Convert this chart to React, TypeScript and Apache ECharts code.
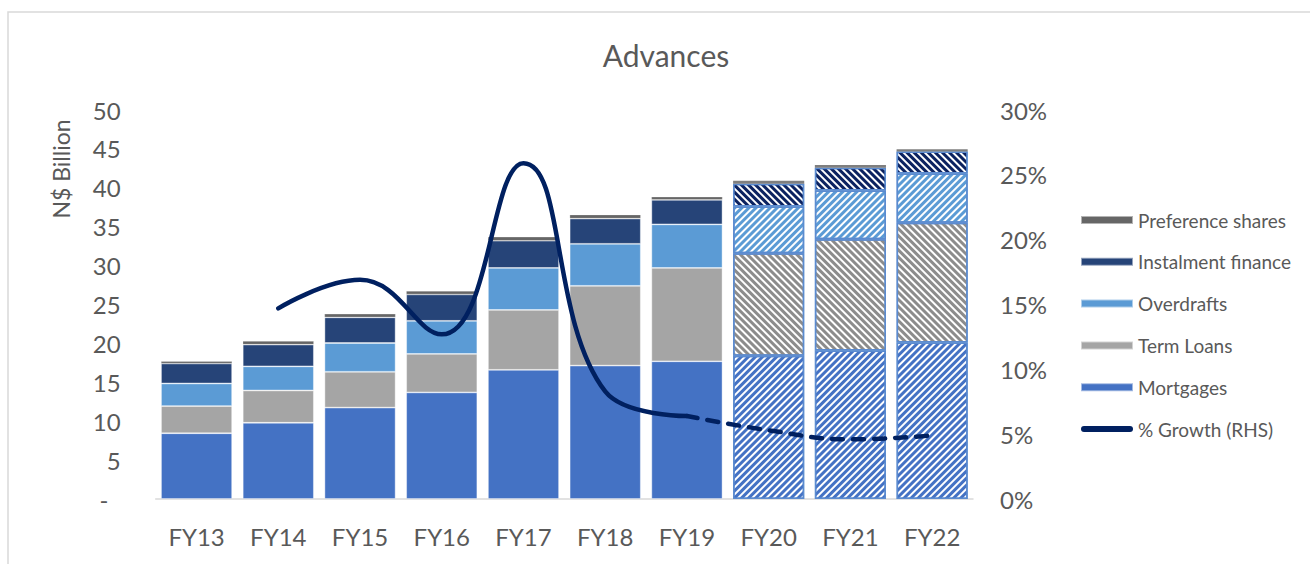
import React, { useEffect, useRef } from "react";
import * as echarts from "echarts";

const categories = ["FY13", "FY14", "FY15", "FY16", "FY17", "FY18", "FY19", "FY20", "FY21", "FY22"];
const mortgages = [8.45, 9.8, 11.75, 13.7, 16.6, 17.15, 17.7, 18.4, 19.1, 20.1];
const termLoans = [3.5, 4.15, 4.6, 4.95, 7.7, 10.25, 12.0, 13.2, 14.3, 15.4];
const overdrafts = [2.9, 3.1, 3.7, 4.25, 5.4, 5.4, 5.6, 6.0, 6.25, 6.35];
const instalment = [2.57, 2.8, 3.3, 3.4, 3.5, 3.25, 3.15, 2.92, 2.93, 2.8];
const preference = [0.3, 0.45, 0.45, 0.45, 0.5, 0.5, 0.4, 0.38, 0.35, 0.32];
const growthActual = [null, 14.7, 16.9, 12.7, 25.9, 8.3, 6.4, null, null, null];
const growthForecast = [null, null, null, null, null, null, 6.4, 5.3, 4.6, 4.9];
const forecastFrom = 7; // FY20 onwards hatched
const leftTicks = { min: 0, max: 50, interval: 5 };
const rightTicks = { min: 0, max: 30, interval: 5 };

const FONT = "Lato, 'Noto Sans', sans-serif";
const TEXT = "#595959";

function hatched(values: number[], solid: string, stripe: string, rot: number, border = true) {
  return values.map((v, i) =>
    i < forecastFrom
      ? v
      : {
          value: v,
          itemStyle: border
            ? {
                color: "#ffffff",
                borderColor: "#5B8BD0",
                borderWidth: 1.5,
                decal: {
                  symbol: "rect",
                  color: stripe,
                  dashArrayX: [1, 0],
                  dashArrayY: [2.5, 2],
                  rotation: rot,
                },
              }
            : { color: solid, borderWidth: 0 },
        }
  );
}

export default function App() {
  const ref = useRef<HTMLDivElement>(null);
  useEffect(() => {
    if (!ref.current) return;
    const chart = echarts.init(ref.current, undefined, { renderer: "svg" });
    const barBase = {
      type: "bar",
      stack: "adv",
      barCategoryGap: "13%",
      yAxisIndex: 0,
    };
    chart.setOption({
      animation: false,
      textStyle: { fontFamily: FONT },
      grid: { left: 155.7, right: 337, top: 110, bottom: 65 },
      legend: {
        orient: "vertical",
        left: 1080,
        top: 210,
        itemWidth: 52,
        itemHeight: 8,
        itemGap: 21.8,
        padding: 0,
        textStyle: { fontSize: 19, lineHeight: 20, color: TEXT, fontFamily: FONT },
        data: [
          { name: "Preference shares", icon: "rect" },
          { name: "Instalment finance", icon: "rect" },
          { name: "Overdrafts", icon: "rect" },
          { name: "Term Loans", icon: "rect" },
          { name: "Mortgages", icon: "rect" },
          {
            name: "% Growth (RHS)",
            icon: "path://M3,0 H49 A3,3 0 0 1 49,6 H3 A3,3 0 0 1 3,0 Z",
            itemStyle: { color: "#002060" },
          },
        ],
      },
      xAxis: {
        type: "category",
        data: categories,
        axisLine: { lineStyle: { color: "#D9D9D9", width: 1.5 } },
        axisTick: { show: false },
        axisLabel: { fontSize: 24, color: TEXT, margin: 25, fontFamily: FONT },
      },
      yAxis: [
        {
          type: "value",
          ...leftTicks,
          splitLine: { show: false },
          axisLine: { show: false },
          axisTick: { show: false },
          axisLabel: {
            fontSize: 24,
            color: TEXT,
            margin: 35,
            fontFamily: FONT,
            formatter: (v: number) => (v === 0 ? "-  " : String(v)),
          },
        },
        {
          type: "value",
          ...rightTicks,
          splitLine: { show: false },
          axisLine: { show: false },
          axisTick: { show: false },
          axisLabel: {
            fontSize: 24,
            color: TEXT,
            margin: 27,
            fontFamily: FONT,
            formatter: "{value}%",
          },
        },
      ],
      graphic: [
        {
          type: "rect",
          shape: { x: 8, y: 12, width: 1330, height: 600 },
          style: { fill: "none", stroke: "#D9D9D9", lineWidth: 1.5 },
          silent: true,
        },
        {
          type: "text",
          x: 666,
          y: 55,
          style: {
            text: "Advances",
            align: "center",
            verticalAlign: "middle",
            fontSize: 30,
            fill: TEXT,
            fontFamily: FONT,
          },
        },
        {
          type: "text",
          x: 61,
          y: 169,
          rotation: Math.PI / 2,
          style: {
            text: "N$ Billion",
            align: "center",
            verticalAlign: "middle",
            fontSize: 23,
            fill: TEXT,
            fontFamily: FONT,
          },
        },
      ],
      series: [
        {
          ...barBase,
          name: "Mortgages",
          itemStyle: { color: "#4472C4", borderColor: "rgba(255,255,255,0.5)", borderWidth: 0.8 },
          data: hatched(mortgages, "#4472C4", "#4472C4", -Math.PI / 4),
        },
        {
          ...barBase,
          name: "Term Loans",
          itemStyle: { color: "#A5A5A5", borderColor: "rgba(255,255,255,0.5)", borderWidth: 0.8 },
          data: hatched(termLoans, "#A5A5A5", "#8C8C8C", Math.PI / 4),
        },
        {
          ...barBase,
          name: "Overdrafts",
          itemStyle: { color: "#5B9BD5", borderColor: "rgba(255,255,255,0.5)", borderWidth: 0.8 },
          data: hatched(overdrafts, "#5B9BD5", "#5B9BD5", -Math.PI / 4),
        },
        {
          ...barBase,
          name: "Instalment finance",
          itemStyle: { color: "#264478", borderColor: "rgba(255,255,255,0.5)", borderWidth: 0.8 },
          data: hatched(instalment, "#264478", "#0B2260", Math.PI / 4),
        },
        {
          ...barBase,
          name: "Preference shares",
          itemStyle: { color: "#666666", borderColor: "rgba(255,255,255,0.5)", borderWidth: 0.5 },
          data: hatched(preference, "#7F7F7F", "#7F7F7F", 0, false),
        },
        {
          type: "line",
          name: "% Growth (RHS)",
          yAxisIndex: 1,
          data: growthActual,
          smooth: 0.45,
          symbol: "none",
          lineStyle: { color: "#002060", width: 4.5, cap: "round", join: "round" },
          itemStyle: { color: "#002060" },
          z: 5,
        },
        {
          type: "line",
          name: "% Growth (RHS)",
          yAxisIndex: 1,
          data: growthForecast,
          smooth: 0.45,
          symbol: "none",
          lineStyle: { color: "#002060", width: 4.5, type: [11, 10], cap: "round" },
          itemStyle: { color: "#002060" },
          z: 5,
        },
      ],
    });
    return () => chart.dispose();
  }, []);
  return (
    <div
      ref={ref}
      style={{ position: "fixed", left: 0, top: 0, width: 1310, height: 564, background: "#fff" }}
    />
  );
}
